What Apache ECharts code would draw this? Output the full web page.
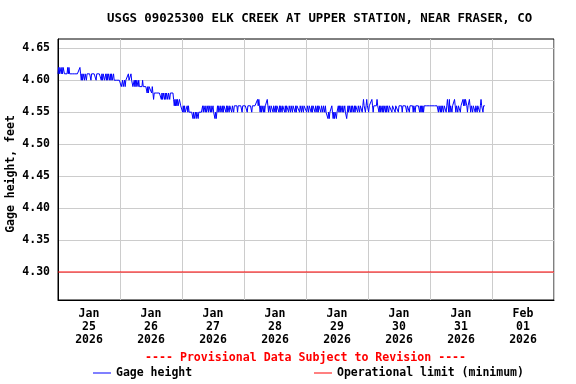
<!DOCTYPE html>
<html><head><meta charset="utf-8">
<script src="https://cdn.jsdelivr.net/npm/echarts@6/dist/echarts.min.js"></script>
<style>html,body{margin:0;padding:0;background:#fff}#c{width:576px;height:384px}</style>
</head><body><div id="c"></div><script>
// ---- data ----
const dayLabels = ['Jan\n25\n2026','Jan\n26\n2026','Jan\n27\n2026','Jan\n28\n2026','Jan\n29\n2026','Jan\n30\n2026','Jan\n31\n2026','Feb\n01\n2026'];
const yTicks = [4.30,4.35,4.40,4.45,4.50,4.55,4.60,4.65];
const yMin = 4.2562, yMax = 4.6645;
const hoursTotal = 192;          // Jan 25 00:00 -> Feb 02 00:00
const stepHours = 0.25;          // 15-minute readings
const limitValue = 4.30;

const day1 = [
4.61,4.62,4.61,4.62,4.62,4.61,4.62,4.61,4.62,4.62,4.61,4.61,
4.61,4.61,4.61,4.62,4.61,4.62,4.61,4.61,4.61,4.61,4.61,4.61,
4.61,4.61,4.61,4.61,4.61,4.61,4.61,4.61,4.61,4.61,4.62,4.61,
4.60,4.61,4.60,4.61,4.61,4.60,4.61,4.61,4.60,4.61,4.61,4.61,
4.61,4.61,4.61,4.60,4.61,4.61,4.61,4.61,4.61,4.61,4.61,4.60,
4.61,4.61,4.61,4.61,4.61,4.61,4.61,4.60,4.61,4.60,4.61,4.61,
4.60,4.60,4.61,4.60,4.61,4.60,4.61,4.61,4.60,4.61,4.60,4.61,
4.60,4.60,4.61,4.60,4.60,4.60,4.60,4.60,4.60,4.60,4.60,4.60];
const day2 = [
4.60,4.60,4.59,4.59,4.60,4.59,4.59,4.60,4.59,4.60,4.60,4.60,
4.60,4.61,4.60,4.60,4.60,4.61,4.60,4.60,4.59,4.59,4.60,4.59,
4.60,4.59,4.60,4.60,4.59,4.60,4.59,4.59,4.59,4.59,4.59,4.60,
4.59,4.59,4.59,4.59,4.59,4.59,4.58,4.59,4.58,4.59,4.59,4.59,
4.59,4.58,4.59,4.59,4.57,4.58,4.58,4.58,4.58,4.58,4.58,4.58,
4.58,4.58,4.58,4.58,4.57,4.58,4.57,4.58,4.58,4.57,4.58,4.57,
4.58,4.58,4.57,4.58,4.58,4.57,4.58,4.58,4.58,4.58,4.58,4.57,
4.56,4.57,4.56,4.57,4.56,4.57,4.56,4.56,4.57,4.57,4.56,4.56];
const day3 = [
4.56,4.55,4.56,4.55,4.56,4.55,4.55,4.55,4.56,4.55,4.56,4.55,
4.55,4.55,4.55,4.55,4.55,4.54,4.55,4.54,4.54,4.55,4.54,4.55,
4.55,4.54,4.55,4.55,4.55,4.55,4.55,4.55,4.56,4.55,4.56,4.56,
4.55,4.56,4.55,4.55,4.56,4.55,4.56,4.56,4.55,4.56,4.55,4.55,
4.56,4.55,4.55,4.54,4.55,4.54,4.55,4.56,4.55,4.56,4.56,4.55,
4.56,4.56,4.55,4.56,4.55,4.56,4.56,4.56,4.55,4.56,4.55,4.56,
4.56,4.55,4.56,4.56,4.56,4.55,4.56,4.56,4.55,4.56,4.56,4.56,
4.56,4.56,4.55,4.56,4.56,4.56,4.56,4.56,4.56,4.55,4.56,4.56];
const day4 = [
4.56,4.56,4.56,4.56,4.56,4.55,4.56,4.56,4.56,4.56,4.56,4.56,
4.55,4.56,4.56,4.56,4.56,4.56,4.56,4.56,4.56,4.57,4.56,4.57,
4.56,4.55,4.56,4.55,4.56,4.56,4.55,4.56,4.55,4.56,4.56,4.56,
4.57,4.56,4.55,4.56,4.56,4.55,4.56,4.56,4.56,4.55,4.56,4.56,
4.55,4.56,4.55,4.56,4.56,4.56,4.55,4.56,4.55,4.56,4.56,4.55,
4.56,4.56,4.56,4.55,4.56,4.55,4.56,4.56,4.56,4.55,4.56,4.56,
4.55,4.56,4.56,4.55,4.56,4.56,4.56,4.55,4.56,4.55,4.56,4.56,
4.56,4.56,4.55,4.56,4.56,4.55,4.56,4.56,4.55,4.56,4.56,4.56];
const day5 = [
4.56,4.55,4.56,4.56,4.55,4.56,4.56,4.56,4.55,4.56,4.55,4.56,
4.56,4.56,4.55,4.56,4.56,4.55,4.56,4.55,4.56,4.56,4.56,4.55,
4.56,4.56,4.55,4.56,4.56,4.55,4.56,4.55,4.55,4.55,4.54,4.55,
4.54,4.55,4.55,4.55,4.56,4.55,4.54,4.55,4.54,4.55,4.55,4.54,
4.55,4.55,4.56,4.55,4.56,4.55,4.56,4.56,4.55,4.56,4.55,4.55,
4.56,4.55,4.55,4.54,4.55,4.56,4.55,4.56,4.56,4.55,4.56,4.55,
4.56,4.56,4.55,4.56,4.55,4.56,4.56,4.56,4.55,4.56,4.56,4.55,
4.56,4.56,4.56,4.55,4.56,4.57,4.56,4.56,4.55,4.56,4.57,4.56];
const day6 = [
4.56,4.55,4.56,4.56,4.56,4.56,4.57,4.56,4.55,4.56,4.56,4.56,
4.56,4.56,4.57,4.56,4.56,4.55,4.56,4.55,4.56,4.56,4.55,4.56,
4.55,4.56,4.56,4.55,4.56,4.55,4.56,4.56,4.55,4.56,4.56,4.56,
4.56,4.55,4.56,4.56,4.56,4.56,4.55,4.56,4.56,4.56,4.56,4.55,
4.56,4.56,4.56,4.56,4.56,4.55,4.56,4.56,4.56,4.56,4.56,4.56,
4.55,4.56,4.56,4.56,4.55,4.56,4.56,4.56,4.56,4.56,4.55,4.56,
4.56,4.55,4.56,4.56,4.56,4.56,4.56,4.56,4.55,4.56,4.55,4.56,
4.55,4.56,4.55,4.56,4.56,4.56,4.56,4.56,4.56,4.56,4.56,4.56];
const day7 = [
4.56,4.56,4.56,4.56,4.56,4.56,4.56,4.56,4.56,4.56,4.56,4.56,
4.56,4.55,4.56,4.56,4.55,4.56,4.55,4.56,4.56,4.55,4.56,4.56,
4.56,4.55,4.56,4.57,4.57,4.55,4.57,4.55,4.56,4.56,4.55,4.56,
4.56,4.56,4.57,4.56,4.55,4.56,4.56,4.55,4.56,4.56,4.56,4.55,
4.56,4.56,4.56,4.57,4.56,4.57,4.56,4.57,4.57,4.56,4.55,4.56,
4.56,4.57,4.56,4.55,4.56,4.56,4.55,4.56,4.56,4.56,4.55,4.56,
4.56,4.55,4.56,4.56,4.56,4.55,4.56,4.57,4.56,4.56,4.55,4.56,
4.56,4.56];

// ---- build ----
const gage = [].concat(day1, day2, day3, day4, day5, day6, day7);
const gageData = gage.map((v, i) => [i * stepHours, v]);
const limitData = [[0, limitValue], [hoursTotal, limitValue]];

const FONT = 'DejaVu Sans Mono';
const txt = { fontFamily: FONT, fontWeight: 'bold', fontSize: 11.5, color: '#000' };

const chart = echarts.init(document.getElementById('c'), null, { renderer: 'canvas' });
chart.setOption({
  animation: false,
  backgroundColor: '#fff',
  title: [
    { text: 'USGS 09025300 ELK CREEK AT UPPER STATION, NEAR FRASER, CO', left: 102, top: 8,
      textStyle: { fontFamily: FONT, fontWeight: 'bold', fontSize: 12.4, color: '#000' } },
    { text: '---- Provisional Data Subject to Revision ----', left: 140, top: 347,
      textStyle: { fontFamily: FONT, fontWeight: 'bold', fontSize: 11.6, color: '#ff0000' } }
  ],
  graphic: [
    { type: 'text', x: 11, y: 174, rotation: Math.PI / 2,
      style: { text: 'Gage height, feet', fontFamily: FONT, fontWeight: 'bold', fontSize: 11.5,
               fill: '#000', align: 'center', verticalAlign: 'middle' } }
  ],
  legend: [
    { data: ['Gage height'], left: 88, top: 362, icon: 'rect', itemWidth: 18, itemHeight: 1,
      itemGap: 0, textStyle: txt, selectedMode: false },
    { data: ['Operational limit (minimum)'], left: 309, top: 362, icon: 'rect', itemWidth: 18, itemHeight: 1,
      itemGap: 0, textStyle: txt, selectedMode: false }
  ],
  grid: { left: 58, right: 22, top: 39, bottom: 84, show: true, borderColor: '#000', borderWidth: 1,
          backgroundColor: 'transparent' },
  xAxis: [
    { type: 'category', data: dayLabels, boundaryGap: true,
      axisLine: { show: true, lineStyle: { color: '#000' } },
      axisTick: { show: false },
      splitLine: { show: true, interval: 0, lineStyle: { color: '#cccccc', width: 1 } },
      axisLabel: Object.assign({ interval: 0, margin: 8, lineHeight: 13 }, txt) },
    { type: 'value', min: 0, max: hoursTotal, show: false }
  ],
  yAxis: {
    type: 'value', min: yMin, max: yMax,
    axisLine: { show: true, lineStyle: { color: '#000' } },
    axisTick: { show: false, customValues: yTicks },
    splitLine: { show: true, lineStyle: { color: '#cccccc', width: 1 } },
    axisLabel: Object.assign({ customValues: yTicks, margin: 8, formatter: v => Number(v).toFixed(2) }, txt)
  },
  series: [
    { name: 'Gage height', type: 'line', xAxisIndex: 1, data: gageData, showSymbol: false, symbol: 'none',
      sampling: null, lineStyle: { color: '#0000ff', width: 1 }, itemStyle: { color: '#0000ff' }, z: 3 },
    { name: 'Operational limit (minimum)', type: 'line', xAxisIndex: 1, data: limitData, showSymbol: false,
      symbol: 'none', lineStyle: { color: '#ff0000', width: 1 }, itemStyle: { color: '#ff0000' }, z: 2 }
  ]
});
</script></body></html>
